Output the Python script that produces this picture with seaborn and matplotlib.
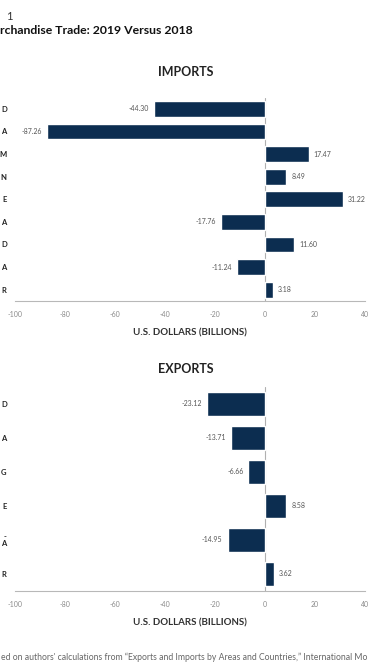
import matplotlib
matplotlib.use("Agg")
import matplotlib.pyplot as plt
import numpy as np
import pandas as pd
import seaborn as sns

# data (left edge of the original is cropped)
IMPORT_LABELS = ["D", "A", "M", "N", "E", "A", "D", "A", "R"]
IMPORT_VALUES = [-44.30, -87.26, 17.47, 8.49, 31.22, -17.76, 11.60, -11.24, 3.18]

EXPORT_LABELS = ["D", "A", "G", "E", "-\nA", "R"]
EXPORT_VALUES = [-23.12, -13.71, -6.66, 8.58, -14.95, 3.62]

X_TICKS = [-100, -80, -60, -40, -20, 0, 20, 40]

NAVY = "#0c2d50"
GREY = "#8a8a8a"

sns.set_theme(style="white")
plt.rcParams["font.family"] = ["Lato", "DejaVu Sans"]
plt.rcParams["axes.unicode_minus"] = False

W, H = 371, 664
fig = plt.figure(figsize=(W / 100, H / 100), dpi=100)


def panel(rect, labels, values, title, title_y):
	ax = fig.add_axes(rect)
	df = pd.DataFrame({"pos": np.arange(len(values)), "value": values})
	sns.barplot(data=df, x="value", y="pos", orient="h", color=NAVY,
				width=0.7, saturation=1, ax=ax)
	ax.set_xlim(-100, 40)
	ax.set_ylim(len(values) - 0.5, -0.5)
	ax.axvline(0, color="#b0b0b0", lw=0.8, zorder=0)

	for i, v in enumerate(values):
		off = 2.0 if v > 0 else -2.0
		ax.text(v + off, i, f"{v:.2f}", ha="left" if v > 0 else "right",
				va="center", fontsize=5, color="#555555")

	for s in ["top", "right", "left"]:
		ax.spines[s].set_visible(False)
	ax.spines["bottom"].set_color("#b8b8b8")
	ax.spines["bottom"].set_linewidth(0.8)

	ax.set_xticks(X_TICKS)
	ax.set_xticklabels([str(t) for t in X_TICKS], fontsize=5, color=GREY)
	ax.tick_params(axis="x", direction="in", length=3, width=0.7,
				   color="#b8b8b8", pad=7)
	ax.set_yticks(np.arange(len(labels)))
	ax.set_yticklabels(labels, fontsize=5.5, fontweight="bold", color="#222222",
					   linespacing=0.9)
	ax.tick_params(axis="y", length=0, pad=6)
	ax.set_xlabel("U.S. DOLLARS (BILLIONS)", fontsize=7, fontweight="bold",
				  color="#333333", labelpad=8)
	ax.set_ylabel("")
	fig.text(0.5, title_y, title, ha="center", va="center", fontsize=9,
			 fontweight="bold", color="#222222")
	return ax


panel([15 / W, (H - 301) / H, 350 / W, 203.5 / H],
	  IMPORT_LABELS, IMPORT_VALUES, "IMPORTS", 1 - 72 / H)
panel([15 / W, (H - 591) / H, 350 / W, 204 / H],
	  EXPORT_LABELS, EXPORT_VALUES, "EXPORTS", 1 - 369 / H)

fig.text(6 / W, 1 - 17 / H, "1", fontsize=8, color="#333333", va="center")
fig.text(0, 1 - 31 / H, "rchandise Trade: 2019 Versus 2018", fontsize=8.8,
		 fontweight="bold", color="#111111", va="center")
fig.text(1 / W, 1 - 657 / H,
		 "ed on authors' calculations from \u201cExports and Imports by Areas and Countries,\u201d International Mo",
		 fontsize=6.2, color="#666666", va="center")

fig.savefig("out.png", dpi=100)
